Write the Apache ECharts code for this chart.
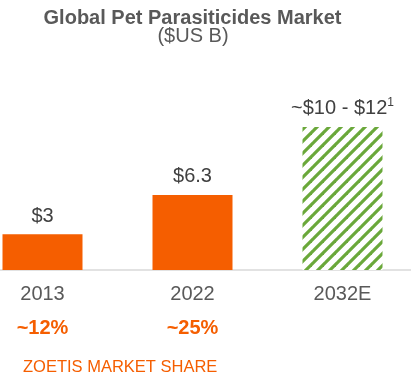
<!DOCTYPE html>
<html>
<head>
<meta charset="utf-8">
<script src="https://cdn.jsdelivr.net/npm/echarts@6/dist/echarts.min.js"></script>
<style>html,body{margin:0;padding:0;background:#fff;}#c{width:411px;height:383px;}</style>
</head>
<body>
<div id="c"></div>
<script>
const categories = ['2013', '2022', '2032E'];
const marketValues = [3, 6.3, 12];
const valueLabels = ['$3', '$6.3', '~$10 - $12{sup|1}'];
const shareLabels = ['~12%', '~25%', ''];
const titleText = 'Global Pet Parasiticides Market';
const subtitleText = '($US B)';
const footnoteText = 'ZOETIS MARKET SHARE';

const ORANGE = '#F55E00';
const GREEN = '#6AA83A';
const GRAY = '#595959';
const FONT = 'Arial, "Liberation Sans", sans-serif';

// hatch pattern
const pc = document.createElement('canvas');
pc.width = 12; pc.height = 12;
const ctx = pc.getContext('2d');
ctx.fillStyle = '#fff';
ctx.fillRect(0, 0, 12, 12);
ctx.strokeStyle = GREEN;
ctx.lineWidth = 3.2;
for (const k of [-12, 0, 12]) {
  ctx.beginPath();
  ctx.moveTo(k - 2, 14);
  ctx.lineTo(k + 14, -2);
  ctx.stroke();
}

const chart = echarts.init(document.getElementById('c'), null, {renderer: 'canvas'});
chart.setOption({
  animation: false,
  backgroundColor: '#fff',
  title: [
    {text: titleText, left: 192.5, top: 8, textAlign: 'center', padding: 0,
     textStyle: {fontFamily: FONT, fontSize: 20, fontWeight: 'bold', color: GRAY}},
    {text: subtitleText, left: 193, top: 26, textAlign: 'center', padding: 0,
     textStyle: {fontFamily: FONT, fontSize: 20, fontWeight: 'normal', color: GRAY}}
  ],
  grid: {left: -32.5, width: 450, top: 127, height: 143, containLabel: false, outerBoundsMode: 'none'},
  xAxis: [
    {type: 'category', data: categories, position: 'bottom',
     axisLine: {show: true, lineStyle: {color: '#D9D9D9', width: 1.5}},
     axisTick: {show: false},
     axisLabel: {margin: 14, fontFamily: FONT, fontSize: 20, color: GRAY}},
    {type: 'category', data: shareLabels, position: 'bottom', offset: 34,
     axisLine: {show: false}, axisTick: {show: false},
     axisLabel: {margin: 14, fontFamily: FONT, fontSize: 20, fontWeight: 'bold', color: ORANGE}}
  ],
  yAxis: {type: 'value', min: 0, max: 12, show: false, splitLine: {show: false}},
  series: [{
    type: 'bar',
    barWidth: 80,
    data: marketValues.map((v, i) => ({
      value: v,
      itemStyle: i === 2 ? {color: {image: pc, repeat: 'repeat'}} : {color: ORANGE}
    })),
    label: {
      show: true, position: 'top', distance: 8,
      fontFamily: FONT, fontSize: 20, color: '#404040',
      formatter: p => valueLabels[p.dataIndex],
      rich: {sup: {fontFamily: FONT, fontSize: 12, color: '#404040', verticalAlign: 'top', padding: [0, 0, 10, 0]}}
    }
  }],
  graphic: [{
    type: 'text', left: 23, top: 359,
    style: {text: footnoteText, fontFamily: FONT, fontSize: 16.5, fill: ORANGE}
  }]
});
</script>
</body>
</html>
